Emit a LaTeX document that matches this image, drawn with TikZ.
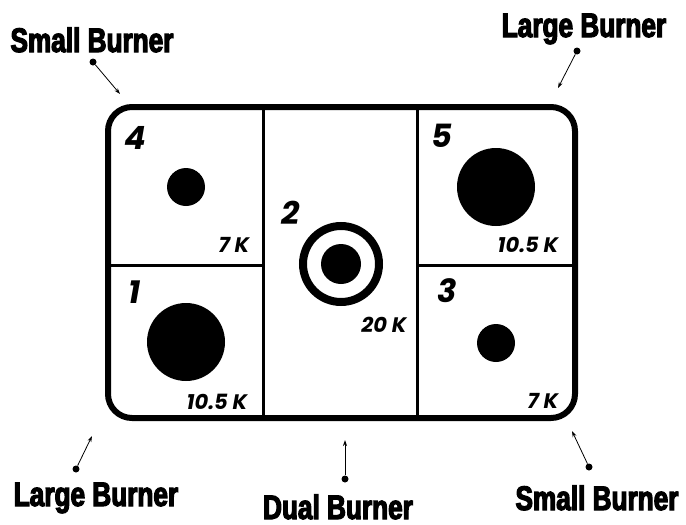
\documentclass[tikz,border=0pt]{standalone}
\usepackage{fontspec}
\newfontfamily\labfont[FakeStretch=0.77, FakeBold=3.5, BoldFont={Liberation Sans Bold}]{Liberation Sans}
\newfontfamily\numfont{Poppins}
\usetikzlibrary{arrows.meta}
\begin{document}
\begin{tikzpicture}[x=1pt,y=-1pt,
  lab/.style={font=\labfont\bfseries\fontsize{34}{38}\selectfont, inner sep=0pt, anchor=base},
  num/.style={font=\numfont\bfseries\itshape\fontsize{32}{35}\selectfont, inner sep=0pt},
  kval/.style={font=\numfont\bfseries\itshape\fontsize{21}{24}\selectfont, inner sep=0pt},
  dotpt/.style={circle, fill=black, inner sep=0pt, minimum size=7pt},
  burner/.style={circle, fill=black, inner sep=0pt},
  ptr/.style={-{Stealth[length=6pt,width=4pt]}, line width=0.8pt},
  divider/.style={line width=3pt}]
\useasboundingbox (0,0) rectangle (686,525);
% outer frame
\draw[line width=6pt, rounded corners=24pt] (108,107) rectangle (575,418);
\draw[divider] (263,107) -- (263,418);
\draw[divider] (417,107) -- (417,418);
\draw[divider] (108,265) -- (263,265);
\draw[divider] (417,265) -- (575,265);
% cell 4
\node[num] (n4) at (135,138) {4};
\node[burner, minimum size=38pt] (b4) at (186,187) {};
\node[kval] (k4) at (234,245) {7 K};
% cell 1
\node[num] (n1) at (135,292) {1};
\node[burner, minimum size=78pt] (b1) at (186,342) {};
\node[kval] (k1) at (217,402) {10.5 K};
% cell 2
\node[num] (n2) at (291,213) {2};
\node[circle, draw=black, line width=8pt, inner sep=0pt, minimum size=76pt] (r2) at (341,264) {};
\node[burner, minimum size=40pt] (b2) at (341,264) {};
\node[kval] (k2) at (384,325) {20 K};
% cell 5
\node[num] (n5) at (442,136) {5};
\node[burner, minimum size=78pt] (b5) at (496,187) {};
\node[kval] (k5) at (528,245) {10.5 K};
% cell 3
\node[num] (n3) at (447,291) {3};
\node[burner, minimum size=38pt] (b3) at (496,343) {};
\node[kval] (k3) at (543,401) {7 K};
% labels
\node[lab] (l1) at (92,52) {Small Burner};
\node[lab] (l2) at (584,37) {Large Burner};
\node[lab] (l3) at (96,506) {Large Burner};
\node[lab] (l4) at (338,519) {Dual Burner};
\node[lab] (l5) at (597,510) {Small Burner};
% pointer dots and targets
\node[dotpt] (d1) at (93,62) {};
\node[dotpt] (d2) at (577,51) {};
\node[dotpt] (d3) at (76,469) {};
\node[dotpt] (d4) at (345,479) {};
\node[dotpt] (d5) at (589,467) {};
\coordinate (t1) at (120,94);
\coordinate (t2) at (558,88);
\coordinate (t3) at (92,436);
\coordinate (t4) at (345,440);
\coordinate (t5) at (572,431);
\draw[ptr] (d1) -- (t1);
\draw[ptr] (d2) -- (t2);
\draw[ptr] (d3) -- (t3);
\draw[ptr] (d4) -- (t4);
\draw[ptr] (d5) -- (t5);
\end{tikzpicture}
\end{document}
